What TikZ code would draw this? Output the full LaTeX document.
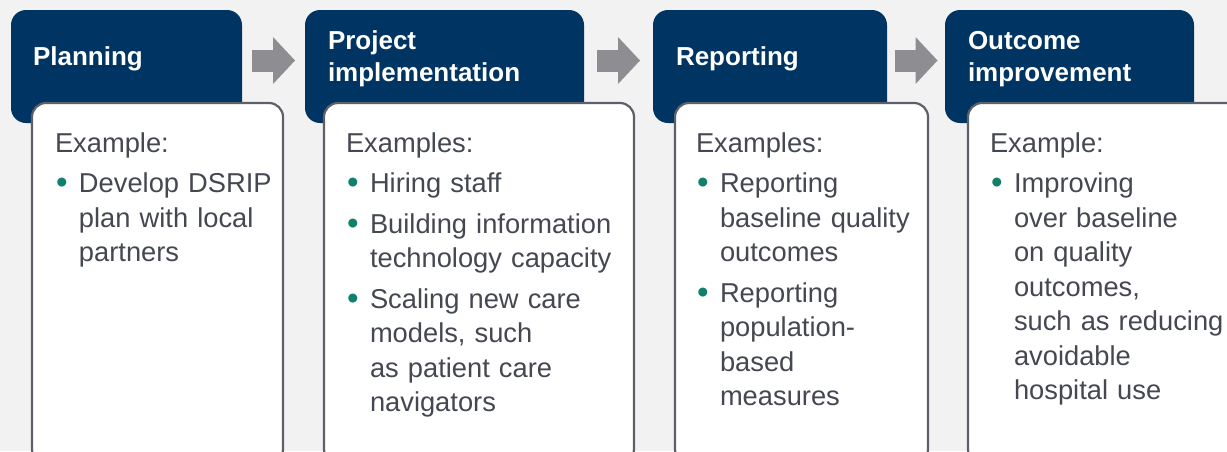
\documentclass[tikz,border=0pt]{standalone}
\usepackage{fontspec}
\setmainfont{Liberation Sans}
\usetikzlibrary{arrows.meta,calc}
\definecolor{headblue}{HTML}{003462}
\definecolor{bodytext}{HTML}{454851}
\definecolor{dotgreen}{HTML}{11806A}
\definecolor{boxline}{HTML}{5E6068}
\definecolor{flowgray}{HTML}{8E8D92}
\definecolor{pagebg}{HTML}{F2F2F2}
\newcommand{\exitem}{\par\vspace{6pt}\hangindent=24pt\hangafter=1\noindent\makebox[24pt][l]{\hspace{1.2pt}\raisebox{-1pt}{\textcolor{dotgreen}{\fontsize{33}{0}\selectfont\char"2022}}}}
\begin{document}
\begin{tikzpicture}[x=1pt,y=1pt,
  every node/.style={inner sep=0pt,outer sep=0pt},
  headbox/.style={fill=headblue,rounded corners=15pt,minimum height=113pt,anchor=north west},
  listbox/.style={draw=boxline,line width=2.2pt,fill=white,rounded corners=14pt,minimum height=360pt,anchor=north west},
  headtext/.style={text=white,font=\fontsize{26}{32}\selectfont\bfseries,align=left,anchor=west},
  listtext/.style={text=bodytext,font=\fontsize{27.3}{34.5}\selectfont,text width=290pt,align=left,anchor=north west},
  flow/.style={draw=flowgray,line width=22pt,-{Triangle[length=22pt,width=47pt,line width=0pt]}}]
\fill[pagebg] (0,0) rectangle (1227,-451);
\clip (0,0) rectangle (1227,-451);
\node[headbox,minimum width=231pt] (planhead) at (11,-10) {};
\node[headbox,minimum width=279pt] (implhead) at (305,-10) {};
\node[headbox,minimum width=234pt] (rephead) at (653,-10) {};
\node[headbox,minimum width=249pt] (outhead) at (945,-10) {};
\node[headtext] (plantitle) at ([xshift=22pt,yshift=7.5pt]planhead.west) {Planning};
\node[headtext] (impltitle) at ([xshift=23pt,yshift=7.5pt]implhead.west) {Project\\implementation};
\node[headtext] (reptitle) at ([xshift=23pt,yshift=7.5pt]rephead.west) {Reporting};
\node[headtext] (outtitle) at ([xshift=23pt,yshift=7.5pt]outhead.west) {Outcome\\improvement};
\node[listbox,minimum width=251pt] (planbox) at (32,-103) {};
\node[listbox,minimum width=310pt] (implbox) at (324,-103) {};
\node[listbox,minimum width=253pt] (repbox) at (675,-103) {};
\node[listbox,minimum width=290pt] (outbox) at (968,-103) {};
\node[listtext] (planlist) at ([xshift=23pt,yshift=-29.4pt]planbox.north west)
  {Example:\exitem Develop DSRIP\newline plan with local\newline partners\par};
\node[listtext] (impllist) at ([xshift=22pt,yshift=-29.4pt]implbox.north west)
  {Examples:\exitem Hiring staff\exitem Building information\newline technology capacity\exitem Scaling new care\newline models, such\newline as patient care\newline navigators\par};
\node[listtext] (replist) at ([xshift=21pt,yshift=-29.4pt]repbox.north west)
  {Examples:\exitem Reporting\newline baseline quality\newline outcomes\exitem Reporting\newline population-\newline based\newline measures\par};
\node[listtext] (outlist) at ([xshift=22pt,yshift=-29.4pt]outbox.north west)
  {Example:\exitem Improving\newline over baseline\newline on quality\newline outcomes,\newline such as reducing\newline avoidable\newline hospital use\par};
\draw[flow] ($(planhead.east)!.5!(implhead.west)+(-21.5,6)$) -- ++(43,0);
\draw[flow] ($(implhead.east)!.5!(rephead.west)+(-21.5,6)$) -- ++(43,0);
\draw[flow] ($(rephead.east)!.5!(outhead.west)+(-21.5,6)$) -- ++(43,0);
\end{tikzpicture}
\end{document}
